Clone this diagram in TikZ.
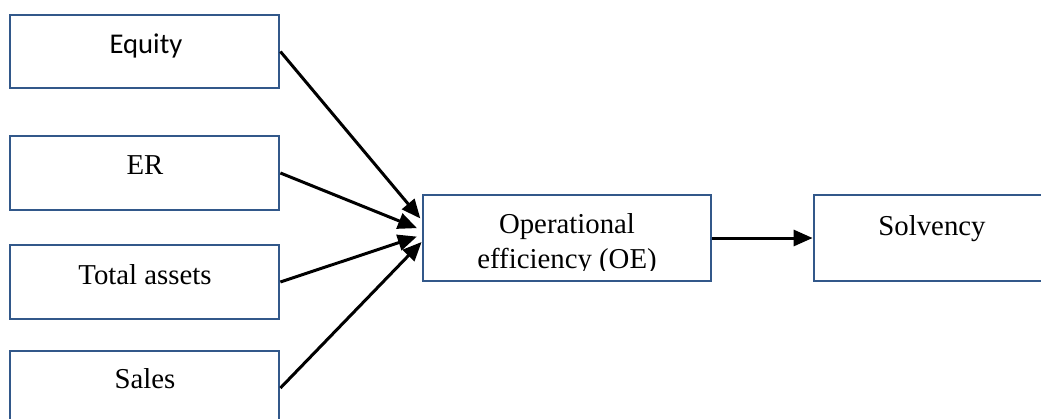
\documentclass[tikz,border=0pt]{standalone}
\usepackage{fontspec}
\setmainfont{Liberation Serif}
\newfontfamily\calibrifont{Carlito}
\usetikzlibrary{arrows.meta}
\definecolor{boxblue}{RGB}{50,88,138}
\tikzset{
  box/.style={draw=boxblue, line width=2.8pt, rectangle, inner sep=0pt, fill=white},
  txt/.style={anchor=base, inner sep=0pt, font=\fontsize{28.8}{35}\selectfont},
  conn/.style={line width=3pt, -{Triangle[length=19pt,width=16pt]}},
}
\begin{document}
\begin{tikzpicture}[x=1pt,y=-1pt]
\clip (0,0) rectangle (1041,418);
\fill[white] (0,0) rectangle (1041,418);
% input boxes
\node[box, minimum width=269pt, minimum height=73pt] (eq) at (144.5,51.5) {};
\node[box, minimum width=269pt, minimum height=74pt] (er) at (144.5,173) {};
\node[box, minimum width=269pt, minimum height=74pt] (ta) at (144.5,282) {};
\node[box, minimum width=269pt, minimum height=74pt] (sa) at (144.5,388) {};
% middle and right boxes
\node[box, minimum width=288pt, minimum height=86pt] (oe) at (567,238) {};
\node[box, minimum width=236pt, minimum height=86pt] (so) at (932,238) {};
% texts
\node[txt, font=\calibrifont\fontsize{28.6}{35}\selectfont] (teq) at (146,53) {Equity};
\node[txt] (ter) at (145,174) {ER};
\node[txt] (tta) at (145,284) {Total assets};
\node[txt] (tsa) at (145,388) {Sales};
\node[txt] (tso) at (932,235) {Solvency};
\node[txt] (toe1) at (567,233) {Operational};
\begin{scope}
  \clip (425,197) rectangle (709,270);
  \node[txt] (toe2) at (567,268) {efficiency (OE)};
\end{scope}
% connector end points
\coordinate (in1) at ([yshift=18pt]oe.west);
\coordinate (in2) at ([yshift=8pt]oe.west);
\coordinate (in3) at ([yshift=3pt]oe.west);
\coordinate (in4) at ([yshift=-4pt]oe.west);
\draw[conn, shorten >=2pt] (eq.east) -- (in1);
\draw[conn, shorten >=5pt] (er.east) -- (in2);
\draw[conn, shorten >=5pt] (ta.east) -- (in3);
\draw[conn] (sa.east) -- (in4);
\draw[conn] (oe.east) -- (so.west);
\end{tikzpicture}
\end{document}
